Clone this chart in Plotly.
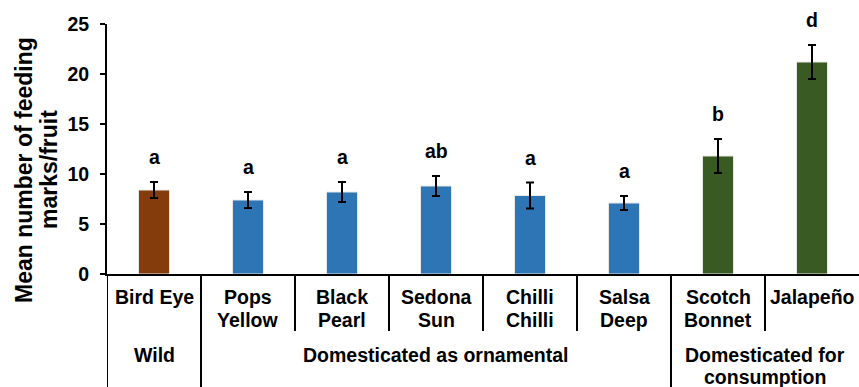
import plotly.graph_objects as go

# Feeding marks per fruit, by pepper cultivar
cultivars = ["Bird Eye", "Pops Yellow", "Black Pearl", "Sedona Sun",
             "Chilli Chilli", "Salsa Deep", "Scotch Bonnet", "Jalapeño"]
cultivar_lines = [["Bird Eye"], ["Pops", "Yellow"], ["Black", "Pearl"], ["Sedona", "Sun"],
                  ["Chilli", "Chilli"], ["Salsa", "Deep"], ["Scotch", "Bonnet"], ["Jalapeño"]]
means = [8.4, 7.4, 8.2, 8.8, 7.85, 7.1, 11.8, 21.2]
errors = [0.8, 0.8, 1.0, 1.0, 1.3, 0.7, 1.7, 1.7]
letters = ["a", "a", "a", "ab", "a", "a", "b", "d"]

group_lines = [["Wild"], ["Domesticated as ornamental"], ["Domesticated for", "consumption"]]
group_first = [0, 1, 6]
group_last = [0, 5, 7]
group_colors = ["#843C0C", "#2E75B6", "#3A5A24"]

y_ticks = [0, 5, 10, 15, 20, 25]

FONT = "Liberation Sans, Arial, sans-serif"
FS = 19.5
W, H = 859, 387
L, R, T, B = 107, 0, 24, 113
plot_h = H - T - B
plot_w = W - L - R

bar_colors = []
for g, (a, b) in enumerate(zip(group_first, group_last)):
    bar_colors += [group_colors[g]] * (b - a + 1)

fig = go.Figure(go.Bar(
    x=cultivars, y=means, width=0.33,
    marker=dict(color=bar_colors, line=dict(color="#E8E8E8", width=1)),
    error_y=dict(type="data", array=errors, visible=True,
                 color="black", thickness=2, width=4),
))

def px_to_paper_y(p):
    return (H - B - p) / plot_h

def px_to_paper_x(p):
    return (p - L) / plot_w

def bold(size):
    return dict(family=FONT, size=size, color="black", weight="bold")

annotations = []
# significance letters above error bars
for c, m, e, s in zip(cultivars, means, errors, letters):
    annotations.append(dict(x=c, y=m + e, xref="x", yref="y", text=s,
                            showarrow=False, yanchor="bottom", yshift=12,
                            font=bold(FS)))
# cultivar names row (one annotation per text line)
for c, lines in zip(cultivars, cultivar_lines):
    for k, line in enumerate(lines):
        annotations.append(dict(x=c, y=px_to_paper_y(297 + 23 * k),
                                xref="x", yref="paper", text=line, showarrow=False,
                                yanchor="middle", xanchor="center", font=bold(FS)))
# group names row
for lines, a, b in zip(group_lines, group_first, group_last):
    for k, line in enumerate(lines):
        annotations.append(dict(x=(a + b) / 2, y=px_to_paper_y(355 + 22 * k),
                                xref="x", yref="paper", text=line, showarrow=False,
                                yanchor="middle", xanchor="center", font=bold(FS)))
# y-axis title, two lines
for txt, xc in [("Mean number of feeding", 24), ("marks/fruit", 49)]:
    annotations.append(dict(x=px_to_paper_x(xc), y=px_to_paper_y(170),
                            xref="paper", yref="paper", text=txt, showarrow=False,
                            textangle=-90, xanchor="center", yanchor="middle",
                            font=bold(23)))

# separators of the category table below the axis
shapes = []
long_bounds = set([a - 0.5 for a in group_first])
for i in range(len(cultivars)):
    xb = i - 0.5
    y_end = px_to_paper_y(H) if xb in long_bounds else px_to_paper_y(331)
    shapes.append(dict(type="line", xref="x", yref="paper", x0=xb, x1=xb,
                       y0=0, y1=y_end, line=dict(color="black", width=2)))

fig.update_layout(
    width=W, height=H,
    margin=dict(l=L, r=R, t=T, b=B, pad=0),
    paper_bgcolor="white", plot_bgcolor="white",
    showlegend=False,
    annotations=annotations, shapes=shapes,
    xaxis=dict(range=[-0.5, len(cultivars) - 0.5], showticklabels=False,
               showline=True, linecolor="black", linewidth=2, ticks="",
               showgrid=False, zeroline=False, fixedrange=True),
    yaxis=dict(range=[0, 25], tickvals=y_ticks, showline=True, linecolor="black",
               linewidth=2, ticks="outside", ticklen=5, tickwidth=2, tickcolor="black",
               ticklabelstandoff=7, tickfont=bold(FS),
               showgrid=False, zeroline=False, fixedrange=True),
)

fig.write_html("out.html")
